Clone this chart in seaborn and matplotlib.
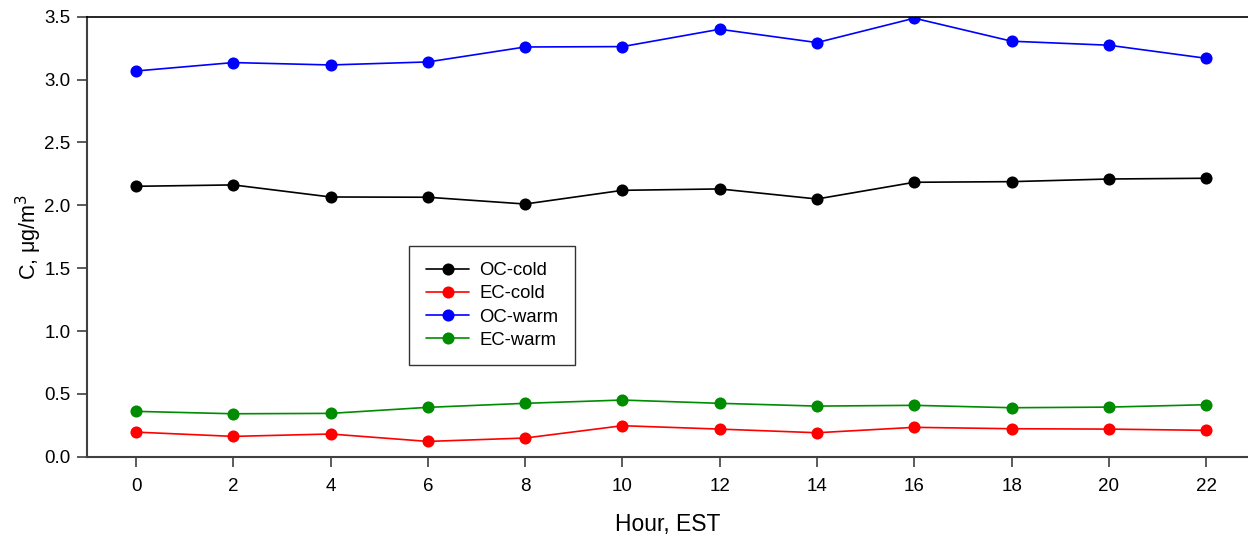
import matplotlib
matplotlib.use("Agg")
import matplotlib.pyplot as plt
import seaborn as sns
import pandas as pd

hours = [0, 2, 4, 6, 8, 10, 12, 14, 16, 18, 20, 22]
oc_cold = [2.151, 2.162, 2.066, 2.064, 2.010, 2.119, 2.130, 2.050, 2.183, 2.188, 2.209, 2.215]
ec_cold = [0.196, 0.162, 0.181, 0.122, 0.149, 0.247, 0.220, 0.191, 0.234, 0.223, 0.220, 0.210]
oc_warm = [3.068, 3.135, 3.116, 3.140, 3.259, 3.262, 3.400, 3.294, 3.488, 3.305, 3.273, 3.169]
ec_warm = [0.361, 0.342, 0.345, 0.393, 0.425, 0.451, 0.425, 0.403, 0.409, 0.390, 0.395, 0.414]

series_names = ["OC-cold", "EC-cold", "OC-warm", "EC-warm"]
series_colors = ["#000000", "#ff0000", "#0000ff", "#008c00"]

sns.set_theme(style="white")
plt.rcParams["font.family"] = ["Liberation Sans", "DejaVu Sans"]
plt.rcParams["text.color"] = "black"
plt.rcParams["axes.labelcolor"] = "black"

frames = []
for name, vals in zip(series_names, [oc_cold, ec_cold, oc_warm, ec_warm]):
    frames.append(pd.DataFrame({"Hour": hours, "C": vals, "Series": name}))
df = pd.concat(frames, ignore_index=True)

fig = plt.figure(figsize=(12.48, 5.38), dpi=100)
ax = fig.add_axes([0.070, 0.151, 0.930, 0.818])

sns.lineplot(data=df, x="Hour", y="C", hue="Series", hue_order=series_names,
             palette=dict(zip(series_names, series_colors)), marker="o",
             markersize=8.7, markeredgewidth=0, linewidth=1.2, ax=ax)

ax.set_xlim(-1, 22.86)
ax.set_ylim(0, 3.5)
ax.set_xticks(hours)
ax.set_yticks([0.0, 0.5, 1.0, 1.5, 2.0, 2.5, 3.0, 3.5])
ax.set_yticklabels([f"{v:.1f}" for v in ax.get_yticks()])
ax.tick_params(axis="both", which="major", bottom=True, left=True,
               top=False, right=False, direction="out", length=7, width=1.2,
               color="#404040", labelsize=13.5, labelcolor="black", pad=5)
ax.tick_params(axis="x", pad=8)

for side in ["left", "bottom"]:
    ax.spines[side].set_color("#404040")
    ax.spines[side].set_linewidth(1.5)
ax.spines["top"].set_color("black")
ax.spines["top"].set_linewidth(1.2)
ax.spines["right"].set_visible(False)

ax.set_xlabel("Hour, EST", fontsize=16.5, labelpad=13.5)
ax.set_ylabel("C, μg/m$^3$", fontsize=15.5, labelpad=0)

leg = ax.legend(loc="upper left", bbox_to_anchor=(0.2774, 0.4795),
                fontsize=13.3, frameon=True, fancybox=False, handlelength=2.35,
                borderpad=0.9, labelspacing=0.33, handletextpad=0.55,
                borderaxespad=0)
leg.get_frame().set_edgecolor("black")
leg.get_frame().set_linewidth(1.0)
leg.set_title(None)

fig.savefig("out.png", dpi=100)
